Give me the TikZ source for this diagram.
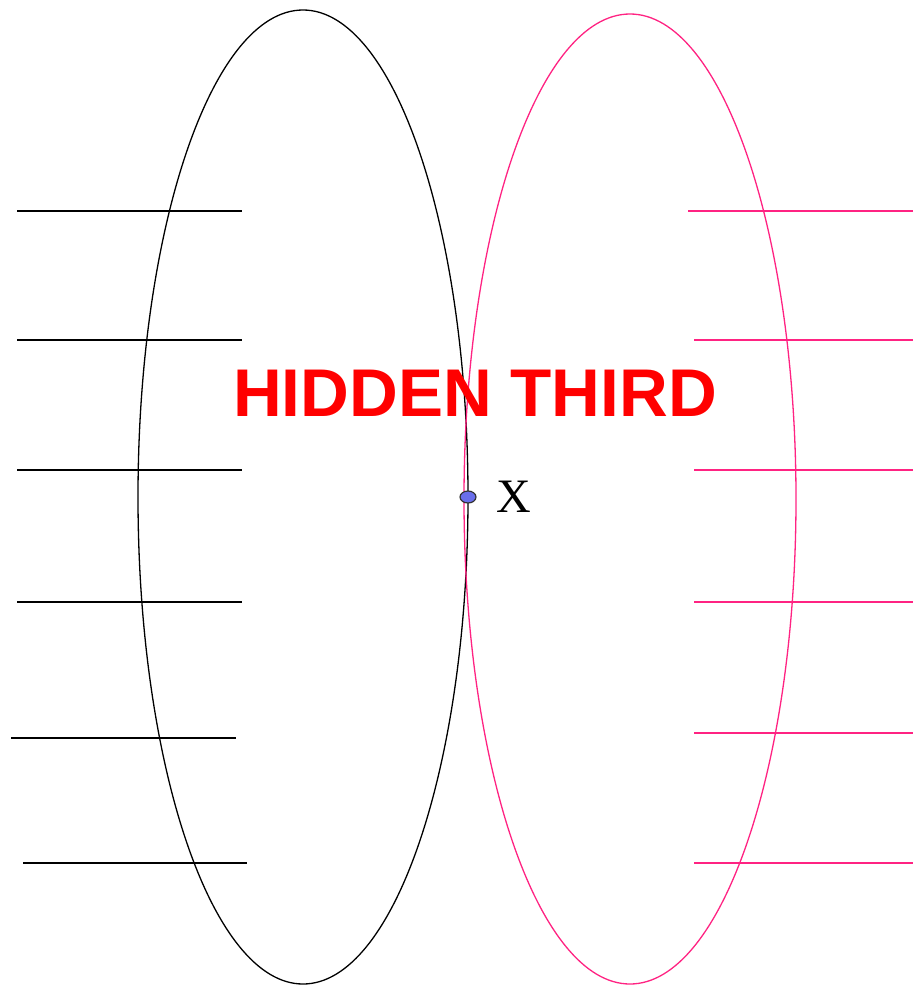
\documentclass[tikz,border=0pt]{standalone}
\usepackage{fontspec}
\setmainfont{Liberation Serif}
\newfontfamily\titlefont{Liberation Sans}
\usetikzlibrary{shapes.geometric,positioning}
\definecolor{rose}{RGB}{255,35,130}
\definecolor{pointbleu}{RGB}{105,110,235}
\tikzset{
  trait/.style={line width=1.7pt},
  contour/.style={line width=1.3pt}
}
\begin{document}
\begin{tikzpicture}[x=1pt,y=-1pt]
\useasboundingbox (0,0) rectangle (913,988);

% Ellipses
\draw[contour] (303,497) ellipse (165 and 487);
\draw[contour,rose] (630,499) ellipse (166 and 485);

% Traits gauches
\foreach \y in {211,340,470,602}
  \draw[trait] (17,\y) -- (242,\y);
\draw[trait] (11,738) -- (236,738);
\draw[trait] (23,863) -- (247,863);

% Traits droits
\draw[trait,rose] (688,211) -- (913,211);
\foreach \y in {340,470,602,733,863}
  \draw[trait,rose] (694,\y) -- (913,\y);

% Titre
\node[text=red,font=\titlefont\bfseries\fontsize{67.5}{67.5}\selectfont] (titre) at (475,393)
{HIDDEN THIRD};

% Point X
\node[ellipse,draw=black!80,fill=pointbleu,line width=1.2pt,
  minimum width=16pt,minimum height=12pt,inner sep=0pt] (pointx) at (468,497) {};

\node[right=20pt of pointx,font=\fontsize{48}{48}\selectfont,inner sep=0pt] (labelx)
{X};

\end{tikzpicture}
\end{document}
